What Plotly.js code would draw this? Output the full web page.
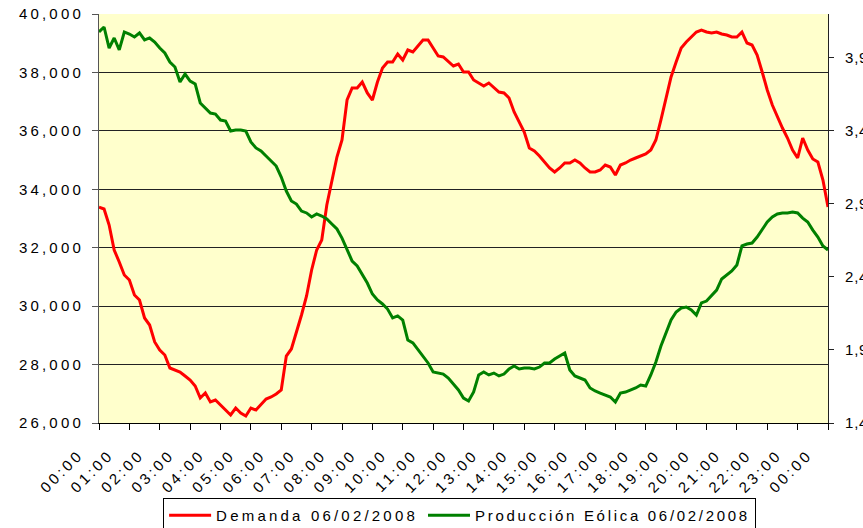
<!DOCTYPE html>
<html>
<head>
<meta charset="utf-8">
<script src="https://cdn.plot.ly/plotly-3.0.1.min.js"></script>
<style>
html,body{margin:0;padding:0;background:#fff;}
svg text{letter-spacing:3.2px;}
svg .y2tick text{letter-spacing:0.8px;}
svg text[data-unformatted^="Producci"]{letter-spacing:2.7px;}
</style>
</head>
<body>
<div id="chart" style="width:863px;height:528px;"></div>
<script>
// Samples every 10 minutes from 00:00 on 06/02/2008 to 00:00 on the next day
const stepMinutes = 10;

// Demanda (MW, left axis)
const demanda = [
  33390,33325,32777,31922,31511,31066,30895,30381,30210,29594,
  29354,28773,28499,28328,27883,27814,27746,27609,27472,27266,
  26856,27027,26719,26787,26616,26445,26274,26513,26342,26240,
  26513,26445,26616,26821,26890,26993,27130,28293,28533,29081,
  29697,30347,31237,31922,32264,33462,34318,35105,35687,37056,
  37467,37467,37672,37296,37056,37672,38152,38357,38357,38631,
  38425,38768,38699,38905,39110,39110,38836,38562,38528,38357,
  38220,38288,38015,38015,37741,37638,37535,37638,37467,37330,
  37296,37125,36645,36303,35961,35413,35310,35139,34934,34729,
  34592,34729,34900,34900,35002,34900,34729,34592,34592,34660,
  34831,34763,34489,34831,34900,35002,35071,35139,35208,35345,
  35687,36372,37125,37844,38357,38836,39042,39213,39384,39452,
  39384,39350,39384,39315,39281,39213,39213,39384,39007,38939,
  38597,38015,37399,36885,36474,36098,35755,35345,35071,35755,
  35345,35037,34934,34318,33394
];

// Producción Eólica (MW, right axis)
const eolica = [
  4077,4111,3967,4036,3954,4077,4063,4043,4070,4022,
  4036,4008,3967,3933,3871,3837,3734,3789,3741,3721,
  3591,3556,3522,3515,3474,3467,3399,3406,3406,3399,
  3324,3283,3262,3228,3194,3159,3084,2988,2920,2899,
  2851,2838,2810,2831,2817,2797,2762,2728,2666,2584,
  2509,2475,2420,2358,2283,2242,2215,2180,2119,2133,
  2105,1968,1948,1900,1859,1811,1749,1742,1735,1708,
  1667,1626,1571,1551,1612,1729,1749,1729,1742,1722,
  1735,1770,1790,1770,1777,1777,1770,1783,1811,1811,
  1838,1859,1879,1763,1722,1708,1694,1640,1619,1605,
  1592,1578,1544,1605,1612,1626,1640,1660,1653,1729,
  1818,1927,2023,2105,2160,2187,2194,2174,2139,2222,
  2235,2269,2310,2386,2413,2441,2482,2612,2625,2632,
  2673,2721,2776,2810,2831,2838,2838,2844,2838,2803,
  2776,2721,2673,2612,2584
];

const seriesNames = ["Demanda 06/02/2008", "Producción Eólica 06/02/2008"];

const tickHours = [0,1,2,3,4,5,6,7,8,9,10,11,12,13,14,15,16,17,18,19,20,21,22,23,24];
const hourLabels = ["00:00","01:00","02:00","03:00","04:00","05:00","06:00","07:00","08:00",
  "09:00","10:00","11:00","12:00","13:00","14:00","15:00","16:00","17:00","18:00",
  "19:00","20:00","21:00","22:00","23:00","00:00"];

const leftTicks = [26000,28000,30000,32000,34000,36000,38000,40000];
const rightTicks = [1400,1900,2400,2900,3400,3900];

const hours = demanda.map((_, i) => i * stepMinutes / 60);

const traces = [
  {x: hours, y: demanda, name: seriesNames[0], type: 'scatter', mode: 'lines',
   line: {color: '#FF0000', width: 3}, yaxis: 'y', xaxis: 'x'},
  {x: hours, y: eolica, name: seriesNames[1], type: 'scatter', mode: 'lines',
   line: {color: '#008000', width: 3}, yaxis: 'y2', xaxis: 'x'}
];

const layout = {
  width: 863, height: 528,
  margin: {l: 99, r: 35, t: 14, b: 105, pad: 0},
  paper_bgcolor: '#ffffff',
  plot_bgcolor: '#FFFFCC',
  font: {family: '"Liberation Sans", Arial, sans-serif', size: 15, color: '#000'},
  showlegend: true,
  legend: {
    orientation: 'h', xref: 'container', yref: 'container',
    x: 0.189, xanchor: 'left', y: 0.0568, yanchor: 'top',
    bordercolor: '#000', borderwidth: 1, bgcolor: '#fff',
    font: {size: 15, color: '#000'}, itemwidth: 42, traceorder: 'normal'
  },
  xaxis: {
    range: [0, 24], tickmode: 'array', tickvals: tickHours, ticktext: hourLabels,
    tickangle: -45, ticks: 'outside', ticklen: 6, tickcolor: '#000',
    ticklabelshift: -20, ticklabelstandoff: 10,
    showline: true, linecolor: '#000', linewidth: 1,
    showgrid: false, zeroline: false, fixedrange: true, automargin: false
  },
  xaxis2: {
    overlaying: 'x', side: 'top', range: [0, 24], showline: true, linecolor: '#808080',
    ticks: '', showticklabels: false, showgrid: false, zeroline: false
  },
  yaxis: {
    range: [26000, 40000], tickmode: 'array', tickvals: leftTicks, tickformat: ',d',
    ticks: 'outside', ticklen: 6, tickcolor: '#555', ticklabelstandoff: 5,
    showline: true, linecolor: '#555', linewidth: 1,
    showgrid: true, gridcolor: '#222', gridwidth: 1, zeroline: false, automargin: false
  },
  yaxis2: {
    overlaying: 'y', side: 'right', anchor: 'x', range: [1400, 4200],
    tickmode: 'array', tickvals: rightTicks, tickformat: ',d',
    ticks: 'outside', ticklen: 5, tickcolor: '#222', ticklabelstandoff: 8,
    showline: true, linecolor: '#222', linewidth: 1,
    showgrid: false, zeroline: false, automargin: false
  },
  yaxis3: {
    overlaying: 'y', side: 'right', anchor: 'x', range: [1400, 4200],
    tickmode: 'array', tickvals: rightTicks, ticks: 'inside', ticklen: 5, tickcolor: '#222',
    showticklabels: false, showline: false, showgrid: false, zeroline: false
  }
};

Plotly.newPlot('chart', traces, layout, {displayModeBar: false, staticPlot: true});
</script>
</body>
</html>
